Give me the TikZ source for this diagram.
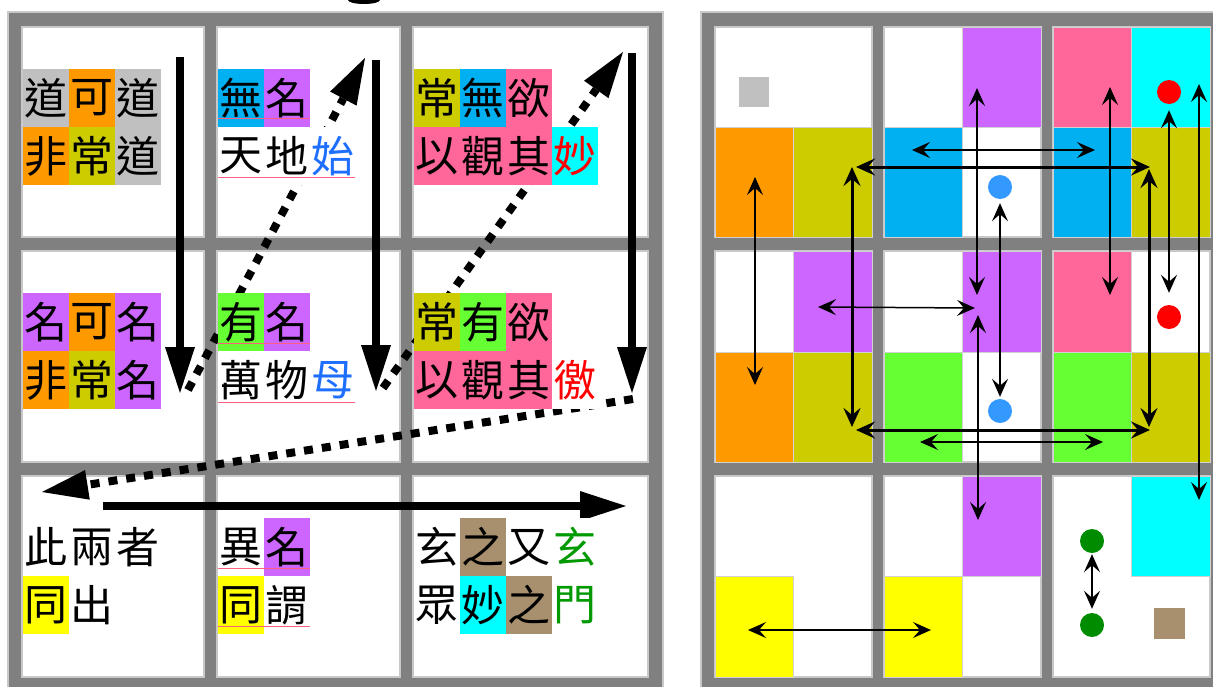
\documentclass[tikz,border=0pt]{standalone}
\usepackage{fontspec}
\newfontfamily\cjkfont{Noto Sans CJK TC}
\usetikzlibrary{arrows.meta}
\definecolor{cgray}{HTML}{C0C0C0}
\definecolor{corange}{HTML}{FF9900}
\definecolor{colive}{HTML}{CCCC00}
\definecolor{cblue}{HTML}{00B0F0}
\definecolor{cpurple}{HTML}{CC66FF}
\definecolor{cpink}{HTML}{FF6699}
\definecolor{ccyan}{HTML}{00FFFF}
\definecolor{cgreen}{HTML}{66FF33}
\definecolor{cyellow}{HTML}{FFFF00}
\definecolor{cbrown}{HTML}{A8906E}
\definecolor{tblue}{HTML}{1E6EFF}
\definecolor{tred}{HTML}{FF0000}
\definecolor{tgreen}{HTML}{009900}
\definecolor{dotblue}{HTML}{3399FF}
\definecolor{dotred}{HTML}{FF0000}
\definecolor{dotgreen}{HTML}{008C00}
\definecolor{framegray}{HTML}{808080}
\definecolor{framelight}{HTML}{C8C8C8}
\definecolor{ulred}{HTML}{FF6080}
\newcommand\cjkline[4]{%
  \foreach \bgc/\fgc/\chr [count=\k from 0] in {#4} {%
    \node[chbox, fill=\bgc, text=\fgc] (#1-\k) at ({#2+24+46*\k},#3) {\chr};
  }%
}
\begin{document}
\begin{tikzpicture}[x=1pt,y=-1pt,
  chbox/.style={minimum width=46pt, minimum height=58pt, inner sep=0pt, outer sep=0pt,
    font=\cjkfont\fontsize{43}{43}\selectfont},
  cellbox/.style={fill=white, draw=framelight, line width=1.4pt},
  panel/.style={fill=framegray, draw=framelight, line width=1.5pt},
  quad/.style={draw=black!18, line width=0.6pt},
  bigarrow/.style={line width=8pt, -{Triangle[length=46pt,width=30pt,line width=0pt]}},
  dotarrow/.style={bigarrow, dash pattern=on 9pt off 9pt},
  thinarrow/.style={line width=1.5pt,
    {Stealth[length=18pt,width=16pt,inset=7pt]}-{Stealth[length=18pt,width=16pt,inset=7pt]}},
  thickarrow/.style={line width=3pt,
    {Stealth[length=19pt,width=17pt,inset=7pt]}-{Stealth[length=19pt,width=17pt,inset=7pt]}},
  dot/.style={circle, inner sep=0pt, minimum size=24pt},
  ul/.style={draw=ulred, line width=0.8pt}
]
\useasboundingbox (0,0) rectangle (1213,686);
\clip (0,0) rectangle (1213,686);
\fill[white] (0,0) rectangle (1213,686);
% cut-off title fragment
\fill[black] (364,0) ellipse [x radius=16, y radius=4];

% ---------- left panel ----------
\draw[panel] (8,12) rectangle (663,695);
\foreach \xa/\xb in {22/204, 217/400, 413/648}
  \foreach \ya/\yb in {27/237, 251/462, 476/677}
    \draw[cellbox] (\xa,\ya) rectangle (\xb,\yb);

% ---------- right panel ----------
\draw[panel] (701,12) rectangle (1225,695);
\foreach \xa/\xb in {715/872, 884/1041, 1053/1210}
  \foreach \ya/\yb in {27/237, 251/462, 476/677}
    \draw[cellbox] (\xa,\ya) rectangle (\xb,\yb);
% row 1
\filldraw[quad, fill=corange] (715,127) rectangle (793,237);
\filldraw[quad, fill=colive] (793,127) rectangle (872,237);
\fill[cgray] (739,77) rectangle (769,107);
\filldraw[quad, fill=cpurple] (962,27) rectangle (1041,127);
\filldraw[quad, fill=cblue] (884,127) rectangle (962,237);
\filldraw[quad, fill=cpink] (1053,27) rectangle (1131,127);
\filldraw[quad, fill=ccyan] (1131,27) rectangle (1210,127);
\filldraw[quad, fill=cblue] (1053,127) rectangle (1131,237);
\filldraw[quad, fill=colive] (1131,127) rectangle (1210,237);
% row 2
\filldraw[quad, fill=cpurple] (793,251) rectangle (872,352);
\filldraw[quad, fill=corange] (715,352) rectangle (793,462);
\filldraw[quad, fill=colive] (793,352) rectangle (872,462);
\filldraw[quad, fill=cpurple] (962,251) rectangle (1041,352);
\filldraw[quad, fill=cgreen] (884,352) rectangle (962,462);
\filldraw[quad, fill=cpink] (1053,251) rectangle (1131,352);
\filldraw[quad, fill=cgreen] (1053,352) rectangle (1131,462);
\filldraw[quad, fill=colive] (1131,352) rectangle (1210,462);
% row 3
\filldraw[quad, fill=cyellow] (715,576) rectangle (793,677);
\filldraw[quad, fill=cpurple] (962,476) rectangle (1041,576);
\filldraw[quad, fill=cyellow] (884,576) rectangle (962,677);
\filldraw[quad, fill=ccyan] (1131,476) rectangle (1210,576);
\fill[cbrown] (1154,608) rectangle (1185,639);

% ---------- left arrows ----------
\coordinate (a1s) at (180,57);  \coordinate (a1e) at (180,393);
\coordinate (a2s) at (376,60);  \coordinate (a2e) at (376,391);
\coordinate (a3s) at (632,53);  \coordinate (a3e) at (632,393);
\coordinate (d1s) at (188,390); \coordinate (d1e) at (365,58);
\coordinate (d2s) at (383,388); \coordinate (d2e) at (623,52);
\coordinate (d3s) at (633,399); \coordinate (d3e) at (42,492);
\coordinate (hs) at (103,506);  \coordinate (he) at (626,506);
\draw[bigarrow] (a1s) -- (a1e);
\draw[bigarrow] (a2s) -- (a2e);
\draw[bigarrow] (a3s) -- (a3e);
\draw[dotarrow] (d1s) -- (d1e);
\draw[dotarrow] (d2s) -- (d2e);
\draw[dotarrow] (d3s) -- (d3e);
\draw[bigarrow] (hs) -- (he);

% ---------- left texts ----------
\cjkline{t11a}{22}{98}{cgray/black/道, corange/black/可, cgray/black/道}
\cjkline{t11b}{22}{156}{corange/black/非, colive/black/常, cgray/black/道}
\cjkline{t12a}{217}{98}{cblue/black/無, cpurple/black/名}
\cjkline{t12b}{217}{156}{white/black/天, white/black/地, white/tblue/始}
\cjkline{t13a}{413}{98}{colive/black/常, cblue/black/無, cpink/black/欲}
\cjkline{t13b}{413}{156}{cpink/black/以, cpink/black/觀, cpink/black/其, ccyan/tred/妙}
\cjkline{t21a}{22}{322}{cpurple/black/名, corange/black/可, cpurple/black/名}
\cjkline{t21b}{22}{380}{corange/black/非, colive/black/常, cpurple/black/名}
\cjkline{t22a}{217}{322}{cgreen/black/有, cpurple/black/名}
\cjkline{t22b}{217}{380}{white/black/萬, white/black/物, white/tblue/母}
\cjkline{t23a}{413}{322}{colive/black/常, cgreen/black/有, cpink/black/欲}
\cjkline{t23b}{413}{380}{cpink/black/以, cpink/black/觀, cpink/black/其, white/tred/徼}
\cjkline{t31a}{22}{547}{white/black/此, white/black/兩, white/black/者}
\cjkline{t31b}{22}{605}{cyellow/black/同, white/black/出}
\cjkline{t32a}{217}{547}{white/black/異, cpurple/black/名}
\cjkline{t32b}{217}{605}{cyellow/black/同, white/black/謂}
\cjkline{t33a}{413}{547}{white/black/玄, cbrown/black/之, white/black/又, white/tgreen/玄}
\cjkline{t33b}{413}{605}{white/black/眾, ccyan/black/妙, cbrown/black/之, white/tgreen/門}
% spell-check underlines
\draw[ul] (218,118) -- (310,118);
\draw[ul] (218,177) -- (355,177);
\draw[ul] (218,343) -- (310,343);
\draw[ul] (218,402) -- (355,402);
\draw[ul] (218,568) -- (310,568);
\draw[ul] (218,626) -- (310,626);

% ---------- right dots ----------
\node[dot, fill=dotblue] (bd1) at (1000,187) {};
\node[dot, fill=dotblue] (bd2) at (1000,411) {};
\node[dot, fill=dotred] (rd1) at (1169,92) {};
\node[dot, fill=dotred] (rd2) at (1169,317) {};
\node[dot, fill=dotgreen] (gd1) at (1092,541) {};
\node[dot, fill=dotgreen] (gd2) at (1092,625) {};

% ---------- right arrows ----------
\coordinate (r1s) at (755,177);  \coordinate (r1e) at (755,385);
\coordinate (r2s) at (852,167);  \coordinate (r2e) at (852,427);
\coordinate (r3s) at (856,167);  \coordinate (r3e) at (1150,167);
\coordinate (r4s) at (912,150);  \coordinate (r4e) at (1095,150);
\coordinate (r5s) at (977,88);   \coordinate (r5e) at (977,295);
\coordinate (r6s) at (978,315);  \coordinate (r6e) at (978,520);
\coordinate (r8s) at (818,307);  \coordinate (r8e) at (975,308);
\coordinate (r9s) at (856,430);  \coordinate (r9e) at (1150,430);
\coordinate (r10s) at (920,442); \coordinate (r10e) at (1103,442);
\coordinate (r11s) at (1149,169); \coordinate (r11e) at (1149,427);
\coordinate (r12s) at (1110,87); \coordinate (r12e) at (1110,295);
\coordinate (r14s) at (1199,84); \coordinate (r14e) at (1199,500);
\coordinate (r15s) at (748,630); \coordinate (r15e) at (931,630);
\draw[thinarrow] (r1s) -- (r1e);
\draw[thickarrow] (r2s) -- (r2e);
\draw[thickarrow] (r3s) -- (r3e);
\draw[thinarrow] (r4s) -- (r4e);
\draw[thinarrow] (r5s) -- (r5e);
\draw[thinarrow] (r6s) -- (r6e);
\draw[thinarrow, shorten <=4pt, shorten >=2pt] (bd1) -- (bd2);
\draw[thinarrow] (r8s) -- (r8e);
\draw[thickarrow] (r9s) -- (r9e);
\draw[thinarrow] (r10s) -- (r10e);
\draw[thickarrow] (r11s) -- (r11e);
\draw[thinarrow] (r12s) -- (r12e);
\draw[thinarrow, shorten <=6pt, shorten >=12pt] (rd1) -- (rd2);
\draw[thinarrow] (r14s) -- (r14e);
\draw[thinarrow] (r15s) -- (r15e);
\draw[thinarrow, shorten <=1pt, shorten >=4pt] (gd1) -- (gd2);
\end{tikzpicture}
\end{document}
